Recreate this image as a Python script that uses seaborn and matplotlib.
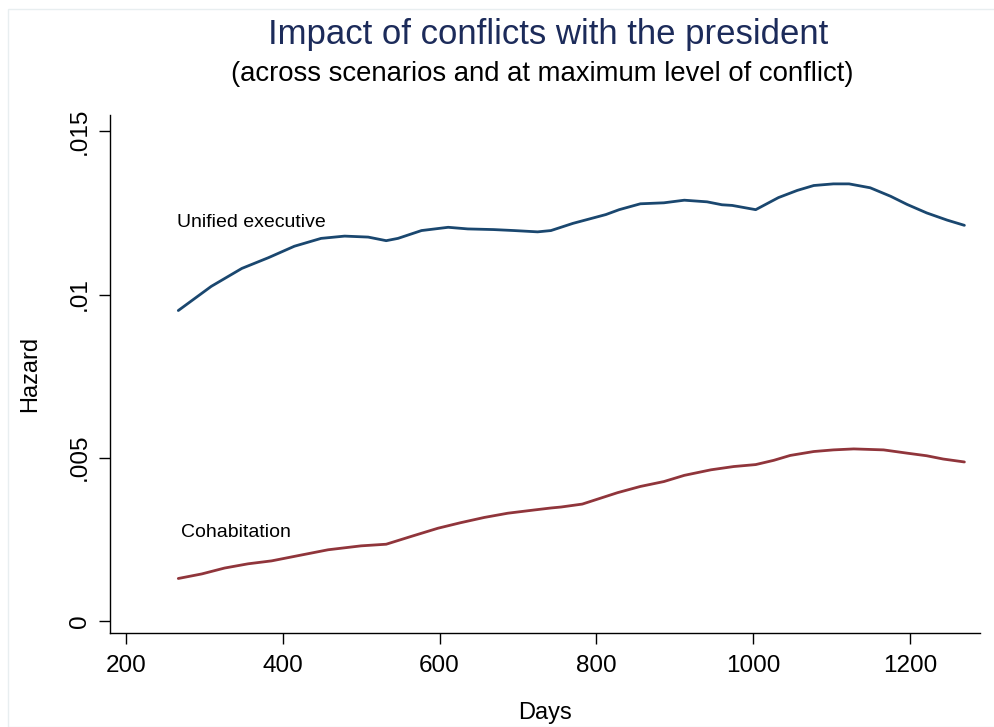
import pandas as pd
import numpy as np
import matplotlib
matplotlib.use("Agg")
import matplotlib.pyplot as plt
import seaborn as sns

# hazard curves
unified_days = [267, 309, 348, 382, 415, 449, 479, 509, 532, 547, 577, 611, 636, 669,
                695, 725, 742, 770, 784, 812, 829, 856, 886, 912, 941, 960, 973,
                1003, 1032, 1056, 1077, 1102, 1122, 1149, 1175, 1196, 1221, 1247, 1269]
unified_hazard = [0.00951, 0.01025, 0.01080, 0.01113, 0.01148, 0.01172, 0.01179, 0.01176,
                  0.01165, 0.01172, 0.01196, 0.01206, 0.01201, 0.01199, 0.01196, 0.01192,
                  0.01196, 0.01218, 0.01227, 0.01245, 0.01260, 0.01278, 0.01281, 0.01289,
                  0.01284, 0.01275, 0.01273, 0.01260, 0.01297, 0.01319, 0.01334, 0.01339,
                  0.01339, 0.01327, 0.01301, 0.01276, 0.01250, 0.01228, 0.01212]

cohab_days = [267, 297, 326, 356, 386, 424, 458, 500, 532, 564, 598, 627, 657, 687, 721,
              742, 755, 782, 827, 856, 886, 912, 946, 975, 1003, 1026, 1047, 1077, 1102,
              1128, 1166, 1196, 1221, 1242, 1269]
cohab_hazard = [0.00130, 0.00144, 0.00162, 0.00175, 0.00184, 0.00202, 0.00218, 0.00230,
                0.00235, 0.00259, 0.00284, 0.00301, 0.00317, 0.00330, 0.00340, 0.00346,
                0.00349, 0.00358, 0.00393, 0.00412, 0.00427, 0.00446, 0.00463, 0.00473,
                0.00479, 0.00492, 0.00507, 0.00519, 0.00524, 0.00527, 0.00524, 0.00514,
                0.00506, 0.00496, 0.00487]

xticks = [200, 400, 600, 800, 1000, 1200]
yticks = [0, 0.005, 0.01, 0.015]
ytick_labels = ["0", ".005", ".01", ".015"]

df = pd.concat([
    pd.DataFrame({"Days": unified_days, "Hazard": unified_hazard, "group": "Unified executive"}),
    pd.DataFrame({"Days": cohab_days, "Hazard": cohab_hazard, "group": "Cohabitation"}),
])

sns.set_style("white")
plt.rcParams["font.family"] = ["Liberation Sans", "DejaVu Sans"]
plt.rcParams["text.color"] = "black"
plt.rcParams["axes.labelcolor"] = "black"

fig = plt.figure(figsize=(9.95, 7.27), dpi=100)
ax = fig.add_axes([0.1106, 0.1293, 0.8744, 0.7125])

sns.lineplot(data=df, x="Days", y="Hazard", hue="group",
             palette={"Unified executive": "#1a476f", "Cohabitation": "#90353b"},
             linewidth=2, legend=False, ax=ax)

ax.set_xlim(180, 1289)
ax.set_ylim(-0.00037, 0.0155)
ax.set_xticks(xticks)
ax.set_xticklabels([str(t) for t in xticks])
ax.set_yticks(yticks)
ax.set_yticklabels(ytick_labels, rotation=90, va="center")
ax.tick_params(axis="both", direction="out", length=8, width=1, colors="black",
               labelsize=17.5, bottom=True, left=True)
ax.tick_params(axis="x", pad=8)
ax.tick_params(axis="y", pad=6)

sns.despine(ax=ax)
for s in ["left", "bottom"]:
    ax.spines[s].set_color("black")
    ax.spines[s].set_linewidth(1)

ax.set_xlabel("Days", fontsize=17, labelpad=18)
ax.set_ylabel("Hazard", fontsize=17, labelpad=20)

ax.text(265, 0.01221, "Unified executive", fontsize=14, va="center", ha="left", color="black")
ax.text(271, 0.0027, "Cohabitation", fontsize=14, va="center", ha="left", color="black")

fig.text(0.551, 0.953, "Impact of conflicts with the president", fontsize=25,
         color="#1c2b5a", ha="center", va="center")
fig.text(0.545, 0.898, "(across scenarios and at maximum level of conflict)", fontsize=19.8,
         color="black", ha="center", va="center")

# faint outer frame of the graph region
fig.patches.append(plt.Rectangle((0.008, 0.0), 0.992, 0.988, transform=fig.transFigure,
                                 fill=False, edgecolor="#e8eef0", linewidth=1))

fig.savefig("out.png", dpi=100, facecolor="white")
